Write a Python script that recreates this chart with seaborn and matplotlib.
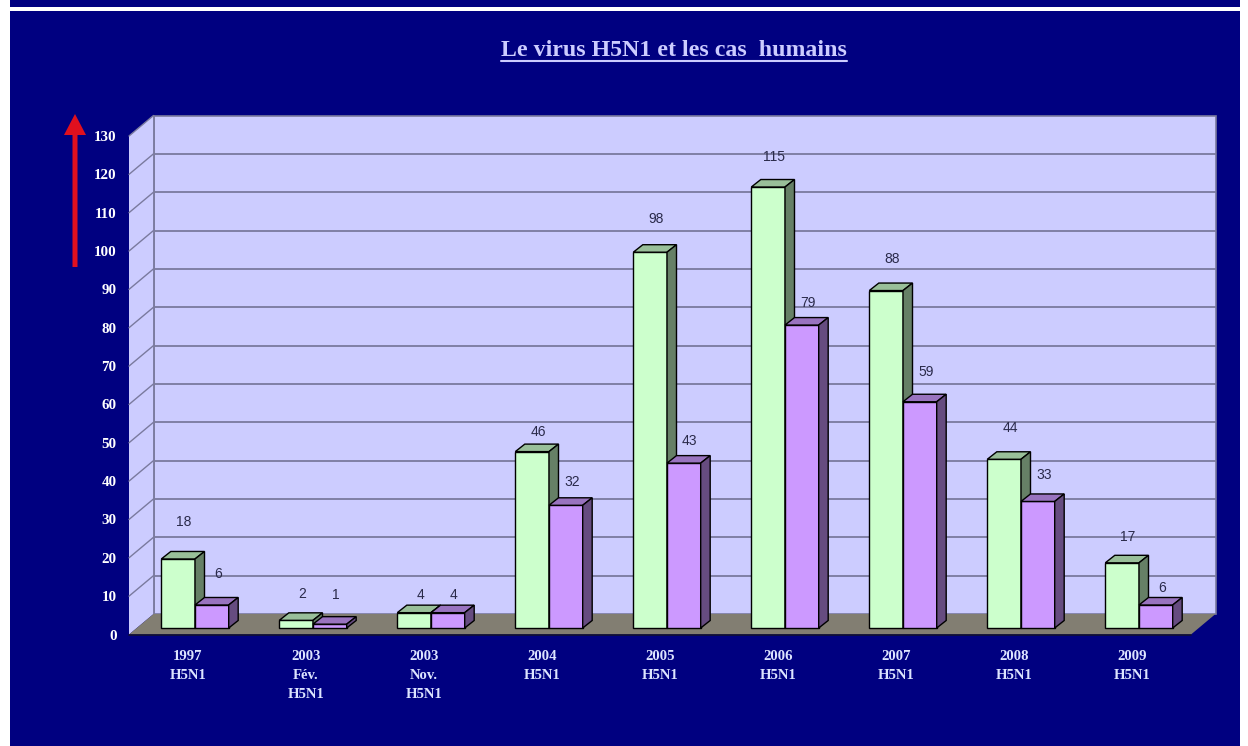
import pandas as pd
import matplotlib
matplotlib.use("Agg")
import matplotlib.pyplot as plt
import seaborn as sns
from matplotlib.lines import Line2D
from matplotlib.patches import FancyArrow, Polygon, Rectangle
from matplotlib.transforms import Affine2D, IdentityTransform

# values
periods = ["1997\nH5N1", "2003\nFév.\nH5N1", "2003\nNov.\nH5N1", "2004\nH5N1", "2005\nH5N1",
           "2006\nH5N1", "2007\nH5N1", "2008\nH5N1", "2009\nH5N1"]
cases = [18, 2, 4, 46, 98, 115, 88, 44, 17]
deaths = [6, 1, 4, 32, 43, 79, 59, 33, 6]
y_ticks = list(range(0, 131, 10))

# the value labels sit at uneven heights in the original (pixels above the bar front)
lift_cases = [37, 26, 18, 20, 33, 30, 32, 31, 26]
lift_deaths = [31, 29, 18, 23, 22, 22, 30, 26, 17]

W, H = 1248, 746
NAVY = "#000080"
WALL = "#CCCCFF"
GRID = "#7A7A9E"
FLOOR = "#827E72"
SERIF = "Liberation Serif"

df = pd.DataFrame({
    "period": periods * 2,
    "value": cases + deaths,
    "serie": ["cas"] * len(cases) + ["deces"] * len(deaths),
})

sns.set_style("white")
fig = plt.figure(figsize=(W / 100, H / 100), dpi=100, facecolor=NAVY)
# axes = front plane of the fake 3D box
ax = fig.add_axes([129 / W, 1 - 634.5 / H, 1062 / W, 498.5 / H])
ax.patch.set_visible(False)

sns.barplot(data=df, x="period", y="value", hue="serie", order=periods,
            palette={"cas": "#CCFFCC", "deces": "#CC99FF"},
            width=0.571, gap=0, edgecolor="black", linewidth=1.0,
            saturation=1, legend=False, ax=ax)
bars = list(ax.patches)

ax.set_xlim(-0.5, 8.5)
ax.set_ylim(0, 130)
ax.set_yticks(y_ticks)
ax.set_xlabel("")
ax.set_ylabel("")
sns.despine(ax=ax, left=True, bottom=True)
ax.tick_params(axis="both", length=0)
ax.tick_params(axis="y", pad=9, labelcolor="white")
ax.tick_params(axis="x", pad=11, labelcolor="#DDE4FF")
for lab in ax.get_yticklabels():
    lab.set(family=SERIF, weight="bold", fontsize=10.8)
for lab in ax.get_xticklabels():
    lab.set(family=SERIF, weight="bold", fontsize=10.6, linespacing=1.62)

# box walls and floor, pushed back by a fixed depth
DEPTH_X, DEPTH_Y = 24.5, 20.5
back = ax.transData + Affine2D().translate(DEPTH_X, DEPTH_Y)
to_px = ax.transData.transform


def px_poly(points, **kw):
    ax.add_patch(Polygon(points, closed=True, transform=IdentityTransform(), clip_on=False, **kw))


x0, y0 = to_px((-0.5, 0))
x1, y1 = to_px((8.5, 130))
ax.add_patch(Rectangle((-0.5, 0), 9, 130, transform=back, facecolor=WALL, edgecolor=GRID,
                       linewidth=1.2, clip_on=False, zorder=0.5))
px_poly([(x0, y0), (x0 + DEPTH_X, y0 + DEPTH_Y), (x0 + DEPTH_X, y1 + DEPTH_Y), (x0, y1)],
        facecolor=WALL, edgecolor="none", zorder=0.6)
ax.hlines(y_ticks[1:-1], -0.5, 8.5, transform=back, colors=GRID, linewidth=1.3, clip_on=False, zorder=0.7)
for v in y_ticks[1:]:
    _, yv = to_px((0, v))
    ax.add_line(Line2D([x0, x0 + DEPTH_X], [yv, yv + DEPTH_Y], transform=IdentityTransform(),
                       color=GRID, linewidth=1, clip_on=False, zorder=0.7))
ax.add_line(Line2D([x0 + DEPTH_X] * 2, [y0 + DEPTH_Y, y1 + DEPTH_Y], transform=IdentityTransform(),
                   color=GRID, linewidth=1.2, clip_on=False, zorder=0.8))
px_poly([(x0, y0), (x1, y0), (x1 + DEPTH_X, y0 + DEPTH_Y), (x0 + DEPTH_X, y0 + DEPTH_Y)],
        facecolor=FLOOR, edgecolor="none", zorder=0.9)
ax.add_line(Line2D([x0, x1], [y0, y0], transform=IdentityTransform(), color="#101030",
                   linewidth=1.2, clip_on=False, zorder=1))

# bars stand in the middle of the floor, with their own top and side faces
SHIFT_X, SHIFT_Y = 7, 6.5
BAR_DX, BAR_DY = 9.5, 7.5
shift = Affine2D().translate(SHIFT_X, SHIFT_Y)
n = len(periods)
faces = [("#99BF99", "#668066", 3, lift_cases, cases), ("#9973BF", "#664C80", 4, lift_deaths, deaths)]
for s, (top_col, side_col, z, lifts, values) in enumerate(faces):
    for i in range(n):
        bar = bars[s * n + i]
        bar.set_transform(ax.transData + shift)
        bar.set_zorder(z)
        xa, yb = to_px((bar.get_x(), 0)) + (SHIFT_X, SHIFT_Y)
        xb, yt = to_px((bar.get_x() + bar.get_width(), values[i])) + (SHIFT_X, SHIFT_Y)
        px_poly([(xa, yt), (xb, yt), (xb + BAR_DX, yt + BAR_DY), (xa + BAR_DX, yt + BAR_DY)],
                facecolor=top_col, edgecolor="black", linewidth=1.0, zorder=z)
        px_poly([(xb, yb), (xb + BAR_DX, yb + BAR_DY), (xb + BAR_DX, yt + BAR_DY), (xb, yt)],
                facecolor=side_col, edgecolor="black", linewidth=1.0, zorder=z)
        ax.annotate(str(values[i]), xy=((xa + xb) / 2 + 6, yt + lifts[i]), xycoords=IdentityTransform(),
                    ha="center", va="center", family="Liberation Sans", fontsize=10,
                    color="#2A2A4A", zorder=6, annotation_clip=False)

# title, underlined by hand
title = fig.text(674 / W, 1 - 51 / H, "Le virus H5N1 et les cas  humains", ha="center", va="center",
                 family=SERIF, weight="bold", fontsize=17.2, color=WALL)
box = title.get_window_extent(fig.canvas.get_renderer())
fig.add_artist(Line2D([box.x0, box.x1], [H - 61] * 2, transform=IdentityTransform(), color=WALL, linewidth=1.5))

# red arrow on the left
fig.add_artist(FancyArrow(75, H - 267, 0, 267 - 114, width=5, head_width=22, head_length=21,
                          length_includes_head=True, transform=IdentityTransform(),
                          facecolor="#E0101E", edgecolor="none"))

# white frame bands of the screenshot
fig.add_artist(Rectangle((0, H - 11), W, 4, transform=IdentityTransform(), facecolor="white", edgecolor="none"))
fig.add_artist(Rectangle((0, 0), 10, H, transform=IdentityTransform(), facecolor="white", edgecolor="none"))
fig.add_artist(Rectangle((1240, 0), 8, H, transform=IdentityTransform(), facecolor="white", edgecolor="none"))

fig.savefig("out.png", dpi=100, facecolor=NAVY)
